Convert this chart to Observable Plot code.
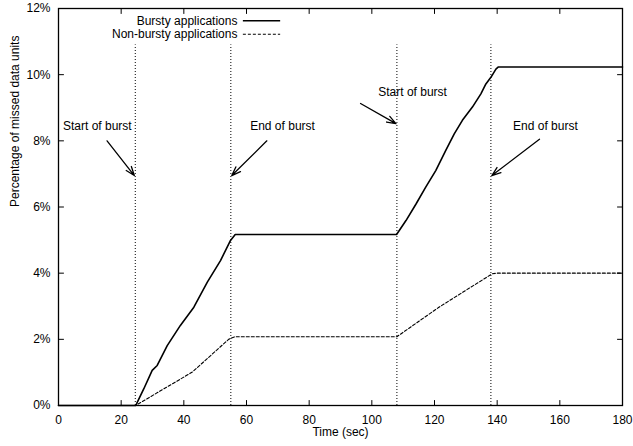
<!DOCTYPE html>
<html>
<head>
<meta charset="utf-8">
<script src="https://cdn.jsdelivr.net/npm/d3@7"></script>
<script src="https://cdn.jsdelivr.net/npm/@observablehq/plot@0.6"></script>
<style>
  html, body { margin: 0; padding: 0; background: #fff; }
  svg { font-family: "Liberation Sans", Arial, Helvetica, sans-serif; }
</style>
</head>
<body>
<div id="chart"></div>
<script>
// Time (sec) and percentage of missed data units
const burstyTime = [0, 24.6, 24.9, 27.2, 29.9, 31.5, 34.7, 38.9, 43.2, 47.5, 51.7, 54.9, 56.4, 107.9, 110.9, 114.1, 117.2, 120.4, 123.6, 126.3, 128.9, 132.1, 134.8, 136.4, 138.0, 139.6, 140.3, 180];
const burstyPct  = [0, 0,    0.05, 0.50, 1.06, 1.21, 1.81, 2.42, 2.97, 3.73, 4.38, 4.99, 5.17, 5.17,  5.59,  6.09,  6.60,  7.10,  7.71,  8.21,  8.62,  9.02,  9.42,  9.72,  9.92, 10.17, 10.23, 10.23];
const nonBurstyTime = [0, 24.6, 42.7, 54.3, 56.3, 108.0, 121.4, 138.4, 140.0, 180];
const nonBurstyPct  = [0, 0,    1.01, 2.00, 2.08, 2.08,  2.97,  3.98,  4.00,  4.00];

// burst boundaries (vertical dotted lines)
const burstMarks = [24.5, 55, 108, 138];
const burstMarkTop = 10.9;

// annotations: label, label position, arrow tail and tip (data units)
const annLabels = ["Start of burst", "End of burst", "Start of burst", "End of burst"];
const annTextX = [12.4, 71.5, 113.0, 155.4];
const annTextY = [8.43, 8.43, 9.46, 8.43];
const annFromX = [15.5, 66.5, 96.4, 153.5];
const annFromY = [8.0, 8.0, 9.13, 8.05];
const annToX   = [24.2, 55.3, 107.7, 138.3];
const annToY   = [6.95, 6.95, 8.52, 6.95];

// legend
const legendLabels = ["Bursty applications", "Non-bursty applications"];
const legendY = [11.63, 11.22];
const legendTextX = 57.1;
const legendLineX = [59.0, 70.9];

// axis ticks
const xTicks = [0, 20, 40, 60, 80, 100, 120, 140, 160, 180];
const yTicks = [0, 2, 4, 6, 8, 10, 12];

const bursty = burstyTime.map((t, i) => ({t, p: burstyPct[i]}));
const nonBursty = nonBurstyTime.map((t, i) => ({t, p: nonBurstyPct[i]}));
const ann = annLabels.map((label, i) => ({label, tx: annTextX[i], ty: annTextY[i], x1: annFromX[i], y1: annFromY[i], x2: annToX[i], y2: annToY[i]}));
const legend = legendLabels.map((label, i) => ({label, y: legendY[i]}));

const tickShape = {draw(ctx, l) { ctx.moveTo(0, 0); ctx.lineTo(0, -l); }};
const tickLen = 5;

const chart = Plot.plot({
  width: 633,
  height: 446,
  marginLeft: 58,
  marginRight: 11,
  marginTop: 8,
  marginBottom: 41,
  style: {fontFamily: '"Liberation Sans", Arial, Helvetica, sans-serif', fontSize: "12px", background: "#fff", color: "#000"},
  x: {domain: [0, 180], label: null},
  y: {domain: [0, 12], label: null},
  marks: [
    // tick labels
    Plot.axisX(xTicks, {tickSize: 0, tickPadding: 10, fontSize: 12, label: null}),
    Plot.axisY(yTicks, {tickSize: 0, tickPadding: 8, fontSize: 12, tickFormat: d => d + "%", label: null}),
    // inward ticks on all four sides
    Plot.vector(xTicks, {x: d => d, y: 0, length: tickLen, rotate: 0, anchor: "start", shape: tickShape, stroke: "#000", strokeWidth: 1}),
    Plot.vector(xTicks, {x: d => d, y: 12, length: tickLen, rotate: 180, anchor: "start", shape: tickShape, stroke: "#000", strokeWidth: 1}),
    Plot.vector(yTicks, {x: 0, y: d => d, length: tickLen, rotate: 90, anchor: "start", shape: tickShape, stroke: "#000", strokeWidth: 1}),
    Plot.vector(yTicks, {x: 180, y: d => d, length: tickLen, rotate: -90, anchor: "start", shape: tickShape, stroke: "#000", strokeWidth: 1}),
    // burst boundaries
    Plot.ruleX(burstMarks, {x: d => d, y1: 0, y2: burstMarkTop, stroke: "#000", strokeWidth: 1, strokeDasharray: "1,2"}),
    // series
    Plot.line(nonBursty, {x: "t", y: "p", stroke: "#000", strokeWidth: 1.1, strokeDasharray: "3,2"}),
    Plot.line(bursty, {x: "t", y: "p", stroke: "#000", strokeWidth: 1.6, strokeLinejoin: "round"}),
    // annotations
    Plot.arrow(ann, {x1: "x1", y1: "y1", x2: "x2", y2: "y2", stroke: "#000", strokeWidth: 1.3, headLength: 11, headAngle: 40}),
    Plot.text(ann, {x: "tx", y: "ty", text: "label", fontSize: 12, fill: "#000"}),
    // legend
    Plot.text(legend, {x: legendTextX, y: "y", text: "label", textAnchor: "end", fontSize: 12, fill: "#000"}),
    Plot.ruleY([legend[0]], {y: "y", x1: legendLineX[0], x2: legendLineX[1], stroke: "#000", strokeWidth: 1.4}),
    Plot.ruleY([legend[1]], {y: "y", x1: legendLineX[0], x2: legendLineX[1], stroke: "#000", strokeWidth: 1.1, strokeDasharray: "3,2"}),
    // frame
    Plot.frame({stroke: "#000", strokeWidth: 1.3}),
    // axis titles
    Plot.text(["Time (sec)"], {frameAnchor: "bottom", dy: 30, text: d => d, fontSize: 12, fill: "#000"}),
    Plot.text(["Percentage of missed data units"], {frameAnchor: "left", dx: -43, rotate: -90, text: d => d, fontSize: 12, fill: "#000"})
  ]
});
document.getElementById("chart").appendChild(chart);
</script>
</body>
</html>
